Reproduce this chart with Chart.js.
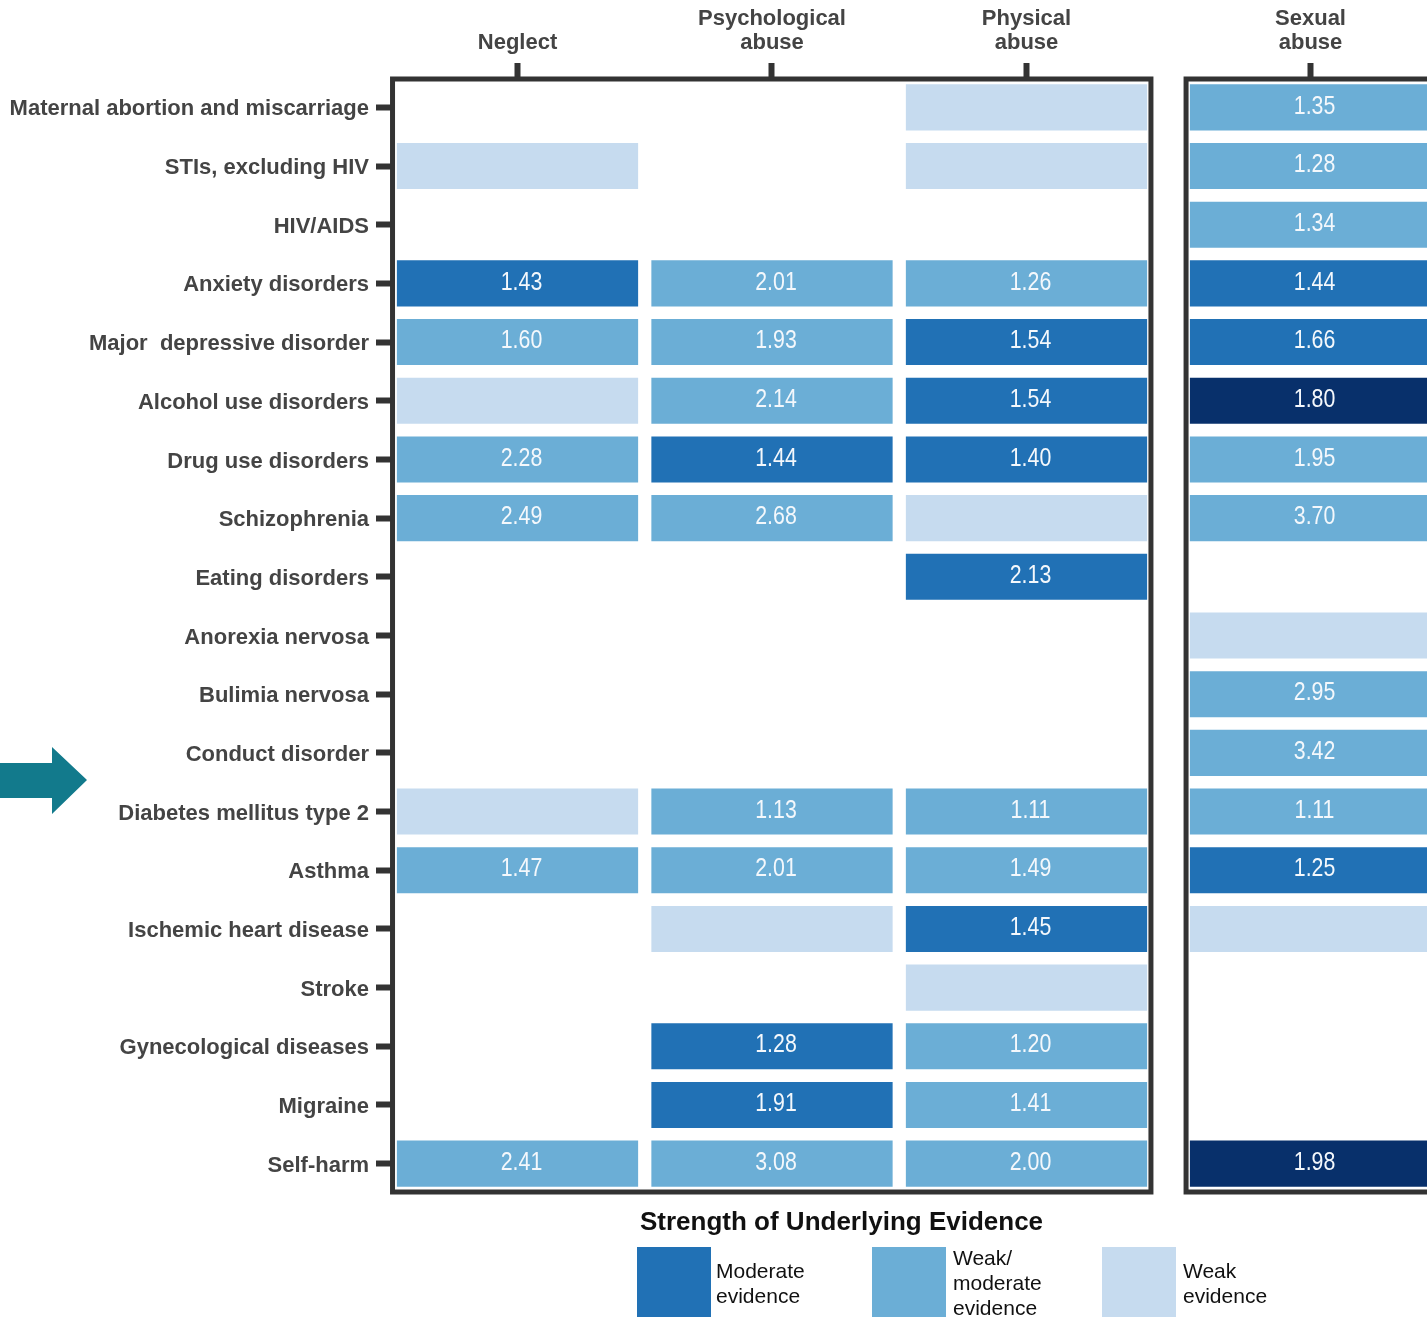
<!DOCTYPE html>
<html>
<head>
<meta charset="utf-8">
<title>Child maltreatment and health outcomes</title>
<script src="https://cdn.jsdelivr.net/npm/chart.js@4.4.1/dist/chart.umd.min.js"></script>
<style>
  html, body { margin: 0; padding: 0; background: #fff; overflow: hidden; }
  #wrap { position: relative; width: 1427px; height: 1317px; font-family: "Liberation Sans", Arial, sans-serif; }
  #chart { position: absolute; left: 0; top: 0; }
  #arrow { position: absolute; left: 0; top: 745px; }
  .legend-title { position: absolute; left: 640px; top: 1206px; font-size: 26px; font-weight: bold; color: #111; white-space: nowrap; }
  .swatch { position: absolute; top: 1247px; width: 74px; height: 80px; }
  .legend-label { position: absolute; font-size: 21px; line-height: 25px; color: #111; }
</style>
</head>
<body>
<div id="wrap">
  <canvas id="chart" width="1427" height="1317"></canvas>
  <svg id="arrow" width="90" height="70" viewBox="0 0 90 70">
    <polygon points="0,18 52,18 52,2 87,35 52,69 52,53 0,53" fill="#127a8c"/>
  </svg>
  <div class="legend-title">Strength of Underlying Evidence</div>
  <div class="swatch" style="left:637px;background:#2171b5"></div>
  <div class="legend-label" style="left:716px;top:1258px">Moderate<br>evidence</div>
  <div class="swatch" style="left:872px;background:#6baed6"></div>
  <div class="legend-label" style="left:953px;top:1245px">Weak/<br>moderate<br>evidence</div>
  <div class="swatch" style="left:1102px;background:#c6dbef"></div>
  <div class="legend-label" style="left:1183px;top:1258px">Weak<br>evidence</div>
</div>
<script>
// health outcomes (rows)
const outcomes = [
  'Maternal abortion and miscarriage', 'STIs, excluding HIV', 'HIV/AIDS',
  'Anxiety disorders', 'Major  depressive disorder', 'Alcohol use disorders',
  'Drug use disorders', 'Schizophrenia', 'Eating disorders', 'Anorexia nervosa',
  'Bulimia nervosa', 'Conduct disorder', 'Diabetes mellitus type 2', 'Asthma',
  'Ischemic heart disease', 'Stroke', 'Gynecological diseases', 'Migraine', 'Self-harm'
];

// maltreatment types (columns)
const abuseTypes = [['Neglect'], ['Psychological', 'abuse'], ['Physical', 'abuse'], ['Sexual', 'abuse']];

// relative risks printed in the cells (null = no figure shown)
const neglectRR  = [null, null, null, 1.43, 1.60, null, 2.28, 2.49, null, null, null, null, null, 1.47, null, null, null, null, 2.41];
const psychRR    = [null, null, null, 2.01, 1.93, 2.14, 1.44, 2.68, null, null, null, null, 1.13, 2.01, null, null, 1.28, 1.91, 3.08];
const physicalRR = [null, null, null, 1.26, 1.54, 1.54, 1.40, null, 2.13, null, null, null, 1.11, 1.49, 1.45, null, 1.20, 1.41, 2.00];
const sexualRR   = [1.35, 1.28, 1.34, 1.44, 1.66, 1.80, 1.95, 3.70, null, null, 2.95, 3.42, 1.11, 1.25, null, null, null, null, 1.98];

// strength of evidence per cell: S strong, M moderate, WM weak/moderate, W weak
const neglectEv  = [null, 'W', null, 'M', 'WM', 'W', 'WM', 'WM', null, null, null, null, 'W', 'WM', null, null, null, null, 'WM'];
const psychEv    = [null, null, null, 'WM', 'WM', 'WM', 'M', 'WM', null, null, null, null, 'WM', 'WM', 'W', null, 'M', 'M', 'WM'];
const physicalEv = ['W', 'W', null, 'WM', 'M', 'M', 'M', 'W', 'M', null, null, null, 'WM', 'WM', 'M', 'W', 'WM', 'WM', 'WM'];
const sexualEv   = ['WM', 'WM', 'WM', 'M', 'M', 'S', 'WM', 'WM', null, 'W', 'WM', 'WM', 'WM', 'M', 'W', null, null, null, 'S'];

const evColors = { S: '#08306b', M: '#2171b5', WM: '#6baed6', W: '#c6dbef' };

// column centres on the x scale; sexual abuse sits in its own panel
const colPos = [0, 1, 2, 3.116];
const halfW = 0.474;
const panels = [[-0.491, 2.489], [2.627, 3.9]];

const columns = [
  { rr: neglectRR, ev: neglectEv },
  { rr: psychRR, ev: psychEv },
  { rr: physicalRR, ev: physicalEv },
  { rr: sexualRR, ev: sexualEv }
];

const datasets = columns.map((col, c) => ({
  label: abuseTypes[c].join(' '),
  data: col.ev.map(e => e ? [colPos[c] - halfW, colPos[c] + halfW] : null),
  backgroundColor: col.ev.map(e => e ? evColors[e] : 'transparent'),
  rr: col.rr,
  grouped: false,
  barPercentage: 0.785,
  categoryPercentage: 1,
  borderSkipped: false
}));

// dark frame round each panel
const panelFrames = {
  id: 'panelFrames',
  afterDatasetsDraw(chart) {
    const { ctx, chartArea, scales: { x } } = chart;
    ctx.save();
    ctx.strokeStyle = '#333';
    ctx.lineWidth = 5;
    panels.forEach(([a, b]) => {
      const l = x.getPixelForValue(a), r = x.getPixelForValue(b);
      ctx.strokeRect(l, chartArea.top + 1, r - l, chartArea.bottom - chartArea.top - 2);
    });
    ctx.restore();
  }
};

// condensed value labels in the cells
const cellValues = {
  id: 'cellValues',
  afterDatasetsDraw(chart) {
    const { ctx } = chart;
    ctx.save();
    ctx.fillStyle = '#f4f8fc';
    ctx.font = '26px "Liberation Sans", Arial, sans-serif';
    ctx.textAlign = 'center';
    ctx.textBaseline = 'middle';
    chart.data.datasets.forEach((ds, i) => {
      chart.getDatasetMeta(i).data.forEach((bar, j) => {
        const v = ds.rr[j];
        if (v == null || !bar) return;
        const cx = (bar.x + bar.base) / 2 + 4;
        ctx.save();
        ctx.translate(cx, bar.y);
        ctx.scale(0.82, 1);
        ctx.fillText(v.toFixed(2), 0, -1);
        ctx.restore();
      });
    });
    ctx.restore();
  }
};

const labelFont = { family: '"Liberation Sans", Arial, sans-serif', size: 22, weight: 'bold', lineHeight: 1.05 };

new Chart(document.getElementById('chart'), {
  type: 'bar',
  data: { labels: outcomes, datasets },
  options: {
    indexAxis: 'y',
    responsive: false,
    animation: false,
    layout: { padding: { left: 0, right: 0, top: 0, bottom: 124 } },
    plugins: { legend: { display: false }, tooltip: { enabled: false } },
    scales: {
      x: {
        type: 'linear',
        position: 'top',
        min: -0.4931,
        max: 3.5737,
        afterBuildTicks: s => { s.ticks = colPos.map(v => ({ value: v })); },
        afterFit: s => { s.height = 78; },
        ticks: {
          callback: (v, i) => abuseTypes[i],
          font: labelFont,
          color: '#444',
          padding: 9,
          maxRotation: 0,
          autoSkip: false
        },
        grid: { drawOnChartArea: false, tickLength: 15, tickWidth: 6, tickColor: '#333' },
        border: { display: false }
      },
      y: {
        type: 'category',
        afterFit: s => { s.width = 392; },
        ticks: { font: labelFont, color: '#444', padding: 7, labelOffset: 2, autoSkip: false },
        grid: { drawOnChartArea: false, offset: false, tickLength: 16, tickWidth: 6, tickColor: '#333' },
        border: { display: false }
      }
    }
  },
  plugins: [panelFrames, cellValues]
});
</script>
</body>
</html>
